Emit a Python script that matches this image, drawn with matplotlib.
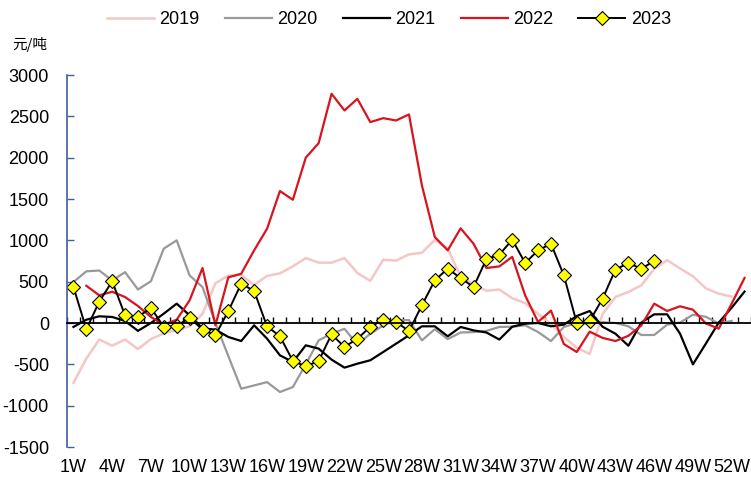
import numpy as np
import matplotlib
matplotlib.use("Agg")
import matplotlib.pyplot as plt

plt.rcParams['font.family'] = ['Liberation Sans', 'Noto Sans CJK SC', 'DejaVu Sans']
plt.rcParams['axes.unicode_minus'] = False

# 周度数据（元/吨）
y2019 = [-725, -430, -200, -275, -200, -315, -195, -125, -85, -40, 110, 480, 575, 580, 460,
         570, 600, 685, 785, 730, 730, 785, 605, 510, 765, 755, 830, 850, 1005, 900, 560,
         470, 390, 405, 300, 240, 110, -10, -170, -300, -375, 110, 315, 375, 455, 655, 760,
         660, 565, 420, 355, 320]
y2020 = [495, 625, 635, 515, 615, 405, 505, 900, 1000, 575, 435, 0, -400, -795, -755, -715,
         -835, -775, -500, -210, -130, -70, -260, -130, -30, 35, 35, -210, -75, -195, -115,
         -110, -95, -48, -45, -28, -109, -218, -48, 0, -5, 10, 0, -40, -145, -145, -20, 5,
         100, 75, -5, 25]
y2021 = [-48, 40, 81, 73, 24, -95, 0, 113, 234, 93, -65, -80, -169, -218, -28, -189, -391,
         -472, -270, -310, -443, -540, -492, -451, -351, -250, -149, -40, -40, -161, -48, -89,
         -115, -200, -45, -8, 0, -40, -20, 85, 145, -45, -130, -275, 5, 105, 105, -129, -500,
         -250, 5, 185, 380]
y2022 = [450, 335, 378, 314, 205, 73, -20, 40, 274, 665, -28, 552, 596, 879, 1140, 1596, 1491,
         1999, 2176, 2773, 2571, 2712, 2430, 2478, 2450, 2523, 1665, 1040, 879, 1145, 959, 665,
         685, 800, 334, 12, 150, -255, -351, -105, -180, -218, -155, -30, 234, 145, 202, 161,
         -5, -69, 234, 545]
y2023 = [435, -75, 258, 504, 93, 73, 185, -48, -36, 64, -81, -149, 145, 476, 387, -40, -161,
         -459, -524, -459, -137, -290, -189, -48, 40, 12, -97, 214, 516, 657, 544, 435, 775,
         826, 1008, 725, 879, 959, 576, 0, 24, 294, 647, 725, 657, 750]

label_weeks = list(range(1, 53, 3))
week_labels = [f"{w}W" for w in label_weeks]

fig = plt.figure(figsize=(7.51, 4.78), dpi=100)
ax = fig.add_axes([67 / 751, 31 / 478, 684 / 751, 372 / 478])

ax.plot(np.arange(1, len(y2019) + 1), y2019, color='#F5C6C6', lw=1.8, label='2019')
ax.plot(np.arange(1, len(y2020) + 1), y2020, color='#999999', lw=1.6, label='2020')
ax.plot(np.arange(1, len(y2021) + 1), y2021, color='black', lw=1.6, label='2021')
ax.plot(np.arange(2, len(y2022) + 2), y2022, color='#D9141E', lw=1.6, label='2022')
ax.plot(np.arange(1, len(y2023) + 1), y2023, color='black', lw=1.4, marker='D',
        markersize=6.8, markerfacecolor='#FFFF00', markeredgecolor='black',
        markeredgewidth=0.8, label='2023')

ax.set_xlim(0.5, 0.5 + 684 / 13)
ax.set_ylim(-1500, 3000)
ax.set_yticks(np.arange(-1500, 3001, 500))

# 零轴与刻度
ax.spines['top'].set_visible(False)
ax.spines['right'].set_visible(False)
ax.spines['left'].set_color('#3F5F9F')
ax.spines['left'].set_linewidth(1.2)
ax.spines['bottom'].set_position(('data', 0))
ax.spines['bottom'].set_linewidth(1.3)
ax.set_xticks([])
ax.set_xticks(np.arange(0.5, 54, 1), minor=True)
ax.tick_params(axis='x', which='minor', direction='in', length=4, width=1, color='black')
ax.tick_params(axis='y', direction='in', length=5, width=1, color='#3F5F9F',
               labelsize=13, pad=13)

sec = ax.secondary_xaxis(0)
sec.set_xticks(label_weeks)
sec.set_xticklabels(week_labels)
sec.tick_params(length=0, labelsize=13, pad=9)
sec.spines['bottom'].set_visible(False)

fig.text(12 / 751, 1 - 45 / 478, '元/吨', fontsize=10.5, va='center', ha='left',
         family=['Noto Sans CJK SC', 'DejaVu Sans'])

fig.legend(loc='center', bbox_to_anchor=(0.518, 1 - 20 / 478), ncol=5, frameon=False,
           fontsize=13, handlelength=2.6, handletextpad=0.3, columnspacing=1.4)

fig.savefig('out.png', dpi=100)
